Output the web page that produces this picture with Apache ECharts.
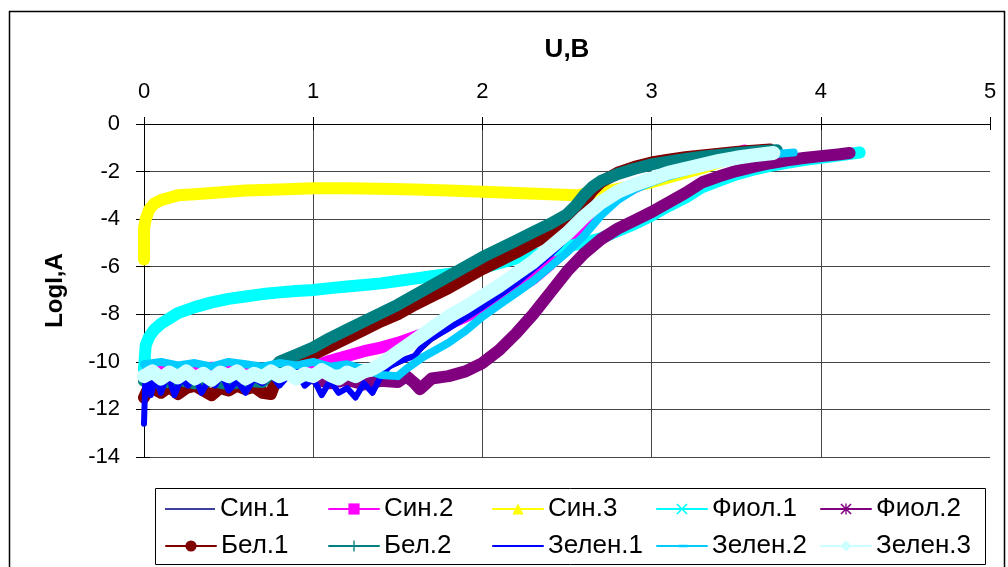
<!DOCTYPE html>
<html>
<head>
<meta charset="utf-8">
<script src="https://cdn.jsdelivr.net/npm/echarts@6/dist/echarts.min.js"></script>
<style>
  html, body { margin: 0; padding: 0; background: #fff; }
  #chart { width: 1008px; height: 567px; }
</style>
</head>
<body>
<div id="chart"></div>
<script>
// Current-voltage curves: log of current (LogI, A) versus voltage (U, B)

const xTicks = [0, 1, 2, 3, 4, 5];
const yTicks = [0, -2, -4, -6, -8, -10, -12, -14];

const names = ['Син.1', 'Син.2', 'Син.3', 'Фиол.1', 'Фиол.2',
               'Бел.1', 'Бел.2', 'Зелен.1', 'Зелен.2', 'Зелен.3'];

// Син.1
const sin1U = [0, 0.2, 0.4, 0.6, 0.8, 1.0, 1.2, 1.4, 1.5, 1.6, 1.7, 1.8, 1.9, 2.0, 2.1, 2.2, 2.3, 2.4, 2.5, 2.6, 2.7, 2.8, 2.9, 3.0, 3.2, 3.4, 3.6];
const sin1I = [-10.6, -10.5, -10.6, -10.5, -10.6, -10.5, -10.6, -10.4, -10.1, -9.75, -9.1, -8.65, -8.2, -7.75, -7.25, -6.75, -6.15, -5.55, -4.85, -4.15, -3.55, -3.05, -2.65, -2.4, -1.95, -1.6, -1.35];

// Син.2
const sin2U = [0, 0.2, 0.4, 0.6, 0.8, 1.0, 1.1, 1.2, 1.3, 1.4, 1.5, 1.6, 1.7, 1.8, 1.9, 2.0, 2.1, 2.2, 2.3, 2.4, 2.5, 2.6, 2.7, 2.8, 2.9, 3.0, 3.1, 3.2, 3.3, 3.4, 3.5, 3.55];
const sin2I = [-10.3, -10.35, -10.25, -10.3, -10.3, -10.2, -9.95, -9.75, -9.55, -9.4, -9.2, -8.95, -8.7, -8.4, -8.1, -7.75, -7.35, -6.95, -6.5, -5.9, -5.2, -4.45, -3.6, -3.05, -2.65, -2.35, -2.1, -1.85, -1.63, -1.42, -1.22, -1.12];

// Син.3
const sin3U = [0, 0, 0.01, 0.03, 0.06, 0.1, 0.15, 0.2, 0.3, 0.4, 0.5, 0.6, 0.8, 1.0, 1.2, 1.4, 1.6, 1.8, 2.0, 2.2, 2.4, 2.55, 2.65, 2.75, 2.9, 3.0, 3.1, 3.2, 3.3, 3.4, 3.5, 3.55];
const sin3I = [-5.7, -4.4, -4.0, -3.6, -3.35, -3.2, -3.1, -3.0, -2.95, -2.9, -2.85, -2.8, -2.75, -2.7, -2.7, -2.72, -2.75, -2.8, -2.85, -2.9, -2.95, -3.0, -2.9, -2.8, -2.6, -2.45, -2.25, -2.05, -1.85, -1.6, -1.35, -1.2];

// Фиол.1
const fiol1U = [0, 0.005, 0.01, 0.03, 0.06, 0.1, 0.2, 0.3, 0.4, 0.5, 0.6, 0.7, 0.8, 0.9, 1.0, 1.1, 1.2, 1.3, 1.4, 1.5, 1.6, 1.7, 1.8, 1.9, 2.0, 2.1, 2.2, 2.3, 2.4, 2.5, 2.6, 2.7, 2.8, 2.9, 3.0, 3.1, 3.2, 3.3, 3.4, 3.5, 3.6, 3.7, 3.8, 3.9, 4.0, 4.1, 4.23];
const fiol1I = [-10.3, -9.8, -9.3, -8.95, -8.65, -8.4, -7.95, -7.7, -7.5, -7.35, -7.25, -7.15, -7.08, -7.02, -6.98, -6.9, -6.83, -6.77, -6.7, -6.6, -6.5, -6.4, -6.3, -6.2, -6.05, -5.85, -5.65, -5.5, -5.35, -5.15, -5.0, -4.8, -4.5, -4.2, -3.85, -3.45, -3.1, -2.65, -2.38, -2.12, -1.92, -1.76, -1.63, -1.52, -1.42, -1.33, -1.2];

// Фиол.2
const fiol2U = [1.0, 1.1, 1.2, 1.3, 1.4, 1.5, 1.55, 1.6, 1.63, 1.7, 1.8, 1.9, 2.0, 2.1, 2.2, 2.3, 2.4, 2.5, 2.6, 2.7, 2.8, 2.9, 3.0, 3.1, 3.2, 3.3, 3.4, 3.5, 3.6, 3.7, 3.8, 3.9, 4.0, 4.1, 4.17];
const fiol2I = [-10.7, -10.9, -10.75, -10.95, -10.8, -10.85, -10.6, -10.9, -11.15, -10.7, -10.6, -10.4, -10.05, -9.5, -8.8, -8.0, -7.1, -6.2, -5.45, -4.85, -4.4, -4.05, -3.7, -3.3, -2.9, -2.45, -2.2, -1.98, -1.8, -1.65, -1.53, -1.43, -1.35, -1.28, -1.22];

// Бел.1
const bel1U = [0, 0.02, 0.05, 0.1, 0.15, 0.2, 0.25, 0.3, 0.35, 0.4, 0.45, 0.5, 0.55, 0.6, 0.65, 0.7, 0.75, 0.8, 0.9, 1.0, 1.1, 1.2, 1.3, 1.4, 1.5, 1.6, 1.7, 1.8, 1.9, 2.0, 2.1, 2.2, 2.3, 2.4, 2.5, 2.55, 2.6, 2.65, 2.7, 2.8, 2.9, 3.0, 3.1, 3.2, 3.3, 3.4, 3.5, 3.6, 3.7];
const bel1I = [-11.5, -11.2, -11.1, -11.3, -11.05, -11.35, -11.1, -11.0, -11.2, -11.4, -11.1, -11.2, -11.0, -11.15, -11.05, -11.3, -11.35, -10.4, -10.0, -9.7, -9.35, -9.0, -8.65, -8.3, -8.0, -7.6, -7.25, -6.9, -6.5, -6.1, -5.75, -5.4, -5.0, -4.65, -4.2, -3.8, -3.3, -2.8, -2.45, -2.05, -1.8, -1.62, -1.5, -1.4, -1.32, -1.25, -1.18, -1.12, -1.07];

// Бел.2
const bel2U = [0, 0.1, 0.2, 0.3, 0.4, 0.5, 0.6, 0.7, 0.8, 0.9, 1.0, 1.1, 1.2, 1.3, 1.4, 1.5, 1.6, 1.7, 1.8, 1.9, 2.0, 2.1, 2.2, 2.3, 2.4, 2.5, 2.55, 2.6, 2.65, 2.7, 2.8, 2.9, 3.0, 3.1, 3.2, 3.3, 3.4, 3.5, 3.6, 3.74];
const bel2I = [-10.8, -10.9, -10.75, -10.9, -10.8, -10.95, -10.8, -10.85, -10.0, -9.7, -9.4, -9.0, -8.65, -8.3, -7.95, -7.6, -7.2, -6.8, -6.4, -6.0, -5.6, -5.25, -4.9, -4.55, -4.2, -3.8, -3.45, -3.0, -2.65, -2.4, -2.1, -1.88, -1.7, -1.58, -1.47, -1.38, -1.3, -1.23, -1.17, -1.1];

// Зелен.1
const zel1U = [0, 0.01, 0.04, 0.07, 0.1, 0.14, 0.18, 0.22, 0.26, 0.3, 0.34, 0.38, 0.42, 0.46, 0.5, 0.55, 0.6, 0.65, 0.7, 0.75, 0.8, 0.85, 0.9, 0.95, 1.0, 1.05, 1.1, 1.15, 1.2, 1.25, 1.3, 1.35, 1.4, 1.45, 1.5, 1.6, 1.65, 1.7, 1.8, 1.9, 2.0, 2.1, 2.2, 2.3, 2.4, 2.5, 2.6, 2.7, 2.8, 2.9, 3.0, 3.1, 3.2, 3.3, 3.4, 3.5, 3.6];
const zel1I = [-12.6, -10.3, -11.4, -10.6, -11.3, -10.5, -11.4, -10.7, -11.0, -10.6, -11.3, -10.8, -11.0, -10.5, -11.2, -10.8, -11.3, -10.7, -10.9, -10.5, -11.0, -10.6, -10.4, -11.0, -10.7, -11.4, -10.8, -11.3, -11.1, -11.5, -10.9, -11.3, -10.6, -10.2, -10.0, -9.75, -9.3, -9.0, -8.6, -8.15, -7.7, -7.2, -6.7, -6.1, -5.5, -4.8, -4.1, -3.5, -3.0, -2.6, -2.35, -2.1, -1.9, -1.72, -1.55, -1.42, -1.3];

// Зелен.2
const zel2U = [0, 0.1, 0.2, 0.3, 0.4, 0.5, 0.6, 0.7, 0.8, 0.9, 1.0, 1.1, 1.2, 1.3, 1.4, 1.5, 1.55, 1.65, 1.8, 1.9, 2.0, 2.1, 2.2, 2.3, 2.4, 2.5, 2.6, 2.7, 2.8, 2.9, 3.0, 3.1, 3.2, 3.3, 3.4, 3.5, 3.6, 3.7, 3.84];
const zel2I = [-10.1, -10.0, -10.15, -10.05, -10.2, -10.0, -10.1, -10.2, -10.05, -10.15, -10.0, -10.2, -10.1, -10.3, -10.55, -10.6, -10.3, -9.8, -9.2, -8.7, -8.1, -7.6, -7.1, -6.6, -6.0, -5.4, -4.7, -3.85, -3.2, -2.75, -2.45, -2.2, -2.0, -1.8, -1.63, -1.5, -1.38, -1.28, -1.2];

// Зелен.3
const zel3U = [0, 0.05, 0.1, 0.15, 0.2, 0.25, 0.3, 0.35, 0.4, 0.45, 0.5, 0.55, 0.6, 0.65, 0.7, 0.75, 0.8, 0.85, 0.9, 0.95, 1.0, 1.05, 1.1, 1.15, 1.2, 1.25, 1.3, 1.35, 1.4, 1.5, 1.6, 1.7, 1.8, 1.9, 2.0, 2.1, 2.2, 2.3, 2.4, 2.5, 2.6, 2.7, 2.8, 2.9, 3.0, 3.1, 3.2, 3.3, 3.4, 3.5, 3.6, 3.72];
const zel3I = [-10.6, -10.4, -10.7, -10.45, -10.65, -10.4, -10.7, -10.5, -10.75, -10.45, -10.6, -10.4, -10.7, -10.5, -10.65, -10.4, -10.6, -10.45, -10.7, -10.5, -10.6, -10.35, -10.55, -10.7, -10.45, -10.6, -10.4, -10.3, -10.1, -9.6, -9.1, -8.6, -8.1, -7.7, -7.25, -6.8, -6.3, -5.8, -5.2, -4.6, -3.9, -3.3, -2.85, -2.55, -2.3, -2.05, -1.88, -1.72, -1.55, -1.42, -1.32, -1.22];

const seriesU = [sin1U, sin2U, sin3U, fiol1U, fiol2U, bel1U, bel2U, zel1U, zel2U, zel3U];
const seriesI = [sin1I, sin2I, sin3I, fiol1I, fiol2I, bel1I, bel2I, zel1I, zel2I, zel3I];

const colors = ['#000080', '#FF00FF', '#FFFF00', '#00FFFF', '#800080',
                '#800000', '#008080', '#0000FF', '#00CCFF', '#CCFFFF'];

// marker shapes
const xMark = 'path://M1,0L5,4L9,0L10,1L6,5L10,9L9,10L5,6L1,10L0,9L4,5L0,1Z';
const plusMark = 'path://M4.4,0H5.6V4.4H10V5.6H5.6V10H4.4V5.6H0V4.4H4.4Z';
const starMark = 'path://M1,0L5,4L9,0L10,1L6,5L10,9L9,10L5,6L1,10L0,9L4,5L0,1Z M4.4,0H5.6V10H4.4Z';
const dashSmall = 'path://M0,0L0,10L0,0Z M2.5,4H7.5V6H2.5Z';
const dashWide = 'path://M0,0L0,10L0,0Z M1.5,3.8H8.5V6.2H1.5Z';
const symbols = ['none', 'rect', 'triangle', xMark, starMark,
                 'circle', plusMark, dashSmall, dashWide, 'diamond'];
const widths = [3, 12, 12, 12, 12, 12, 12, 6, 8, 14];

const series = names.map((name, k) => ({
  name: name,
  type: 'line',
  data: seriesU[k].map((u, i) => [u, seriesI[k][i]]),
  showSymbol: false,
  symbol: symbols[k],
  color: colors[k],
  lineStyle: { width: widths[k], color: colors[k], cap: 'round', join: 'round' },
  itemStyle: { color: colors[k], borderWidth: 0 },
  emphasis: { disabled: true },
  silent: true,
  z: 2 + k
}));

// legend: two rows of five entries in a framed box
const legendLeft = [165, 328, 492, 656, 820];
const legendTop = [496, 533];
const legendText = { fontFamily: 'Liberation Sans, Arial, sans-serif', fontSize: 26, color: '#000' };
const legends = names.map((n, k) => ({
  data: [n === 'Син.1'
    ? { name: n, icon: 'path://M0,0L0,14L0,0Z M0,6.2H60V7.8H0Z' }
    : n],
  left: legendLeft[k % 5], top: legendTop[Math.floor(k / 5)],
  itemWidth: 50, itemHeight: 14, padding: 0,
  selectedMode: false,
  textStyle: legendText,
  lineStyle: { width: 2 },
  itemStyle: { borderWidth: 0 }
}));

const axisFont = { fontFamily: 'Liberation Sans, Arial, sans-serif', fontSize: 22, color: '#000' };
const gridLine = { show: true, lineStyle: { color: '#454545', width: 1 } };

const option = {
  animation: false,
  backgroundColor: '#fff',
  grid: { left: 144, right: 18, top: 124, bottom: 110 },
  xAxis: [{
    type: 'value', position: 'top', min: xTicks[0], max: xTicks[xTicks.length - 1], interval: 1,
    name: 'U,B', nameLocation: 'middle', nameGap: 61,
    nameTextStyle: { fontFamily: 'Liberation Sans, Arial, sans-serif', fontSize: 26, fontWeight: 'bold', color: '#000' },
    axisLine: { show: true, onZero: false, lineStyle: { color: '#000', width: 1 } },
    axisTick: { show: true, length: 7, lineStyle: { color: '#000' } },
    axisLabel: Object.assign({ margin: 21 }, axisFont),
    splitLine: Object.assign({ showMaxLine: false, showMinLine: false }, gridLine)
  }, {
    type: 'value', position: 'top', offset: 0, min: 0, max: 5, interval: 1,
    axisLine: { show: false }, axisLabel: { show: false }, splitLine: { show: false },
    axisTick: { show: true, inside: true, length: 6, lineStyle: { color: '#000' } }
  }],
  yAxis: [{
    type: 'value', position: 'left', min: yTicks[yTicks.length - 1], max: yTicks[0], interval: 2,
    name: 'LogI,A', nameLocation: 'middle', nameGap: 77, nameRotate: 90,
    nameTextStyle: { fontFamily: 'Liberation Sans, Arial, sans-serif', fontSize: 24, fontWeight: 'bold', color: '#000' },
    axisLine: { show: true, onZero: false, lineStyle: { color: '#000', width: 1 } },
    axisTick: { show: true, length: 8, lineStyle: { color: '#000' } },
    axisLabel: Object.assign({ margin: 24 }, axisFont),
    splitLine: Object.assign({ showMaxLine: false }, gridLine)
  }, {
    type: 'value', position: 'left', offset: 0, min: -14, max: 0, interval: 2,
    axisLine: { show: false }, axisLabel: { show: false }, splitLine: { show: false },
    axisTick: { show: true, inside: true, length: 6, lineStyle: { color: '#000' } }
  }],
  legend: legends,
  graphic: [
    { type: 'rect', shape: { x: 9.5, y: 11.5, width: 995, height: 600 },
      style: { fill: 'none', stroke: '#000', lineWidth: 1.5 }, silent: true },
    { type: 'rect', shape: { x: 155.5, y: 488.5, width: 830, height: 76 },
      style: { fill: 'none', stroke: '#000', lineWidth: 1 }, silent: true }
  ],
  series: series
};

const chart = echarts.init(document.getElementById('chart'), null, { renderer: 'canvas' });
chart.setOption(option);
</script>
</body>
</html>
